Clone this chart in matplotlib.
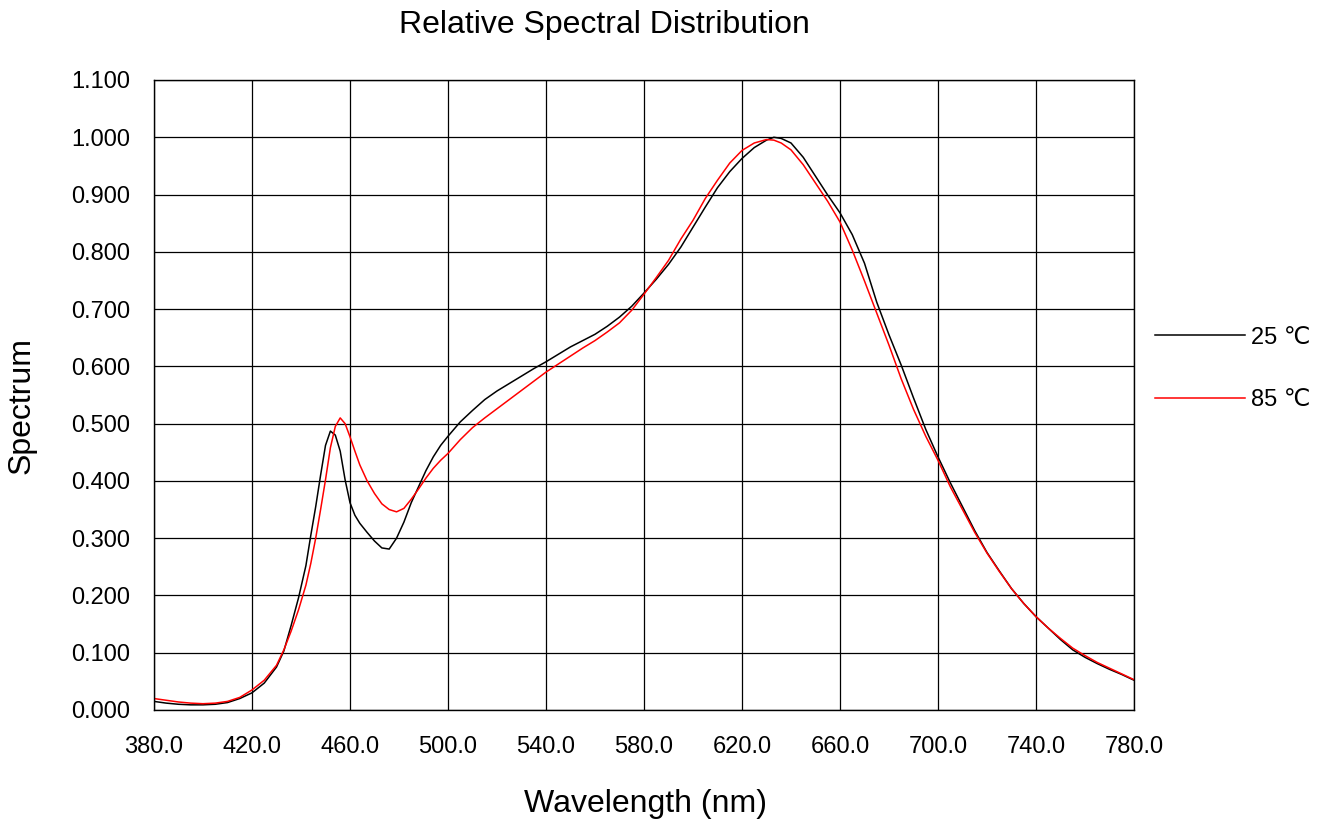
import matplotlib
matplotlib.use("Agg")
import matplotlib.pyplot as plt
from matplotlib.ticker import FixedLocator, FormatStrFormatter

plt.rcParams['font.family'] = ['Liberation Sans', 'DejaVu Sans']

wavelength = [380, 385, 390, 395, 400, 405, 410, 415, 420, 425, 430, 433, 436, 439, 442,
              444, 446, 448, 450, 452, 454, 456, 458, 460, 462, 464, 467, 470, 473, 476,
              479, 482, 485, 488, 491, 494, 497, 500, 505, 510, 515, 520, 525, 530, 535,
              540, 545, 550, 555, 560, 565, 570, 575, 580, 585, 590, 595, 600, 605, 610,
              615, 620, 625, 630, 633, 636, 640, 645, 650, 655, 660, 665, 670, 675, 680,
              685, 690, 695, 700, 705, 710, 715, 720, 725, 730, 735, 740, 745, 750, 755,
              760, 765, 770, 775, 780]

spec_25 = [0.015, 0.012, 0.010, 0.009, 0.009, 0.010, 0.013, 0.020, 0.030, 0.047, 0.075, 0.103, 0.148, 0.196, 0.252,
           0.305, 0.355, 0.410, 0.462, 0.487, 0.480, 0.452, 0.402, 0.362, 0.340, 0.326, 0.310, 0.295, 0.283, 0.281,
           0.300, 0.328, 0.362, 0.390, 0.418, 0.442, 0.462, 0.478, 0.503, 0.523, 0.542, 0.557, 0.570, 0.583, 0.596,
           0.608, 0.621, 0.634, 0.645, 0.656, 0.670, 0.686, 0.705, 0.728, 0.752, 0.778, 0.808, 0.843, 0.878, 0.912,
           0.940, 0.963, 0.982, 0.995, 1.000, 0.998, 0.990, 0.965, 0.932, 0.899, 0.868, 0.830, 0.780, 0.712, 0.655,
           0.602, 0.545, 0.490, 0.442, 0.397, 0.355, 0.313, 0.275, 0.243, 0.212, 0.186, 0.163, 0.143, 0.123, 0.105,
           0.092, 0.081, 0.071, 0.062, 0.052]

spec_85 = [0.020, 0.017, 0.014, 0.012, 0.011, 0.012, 0.015, 0.022, 0.035, 0.052, 0.078, 0.105, 0.138, 0.175, 0.218,
           0.256, 0.300, 0.350, 0.402, 0.458, 0.495, 0.510, 0.500, 0.477, 0.452, 0.428, 0.400, 0.378, 0.360, 0.350,
           0.346, 0.352, 0.368, 0.386, 0.405, 0.422, 0.436, 0.448, 0.472, 0.493, 0.510, 0.526, 0.542, 0.558, 0.574,
           0.590, 0.604, 0.618, 0.632, 0.645, 0.660, 0.676, 0.698, 0.726, 0.755, 0.785, 0.822, 0.855, 0.893, 0.925,
           0.955, 0.977, 0.990, 0.996, 0.995, 0.990, 0.978, 0.952, 0.920, 0.888, 0.852, 0.803, 0.749, 0.693, 0.637,
           0.578, 0.525, 0.478, 0.436, 0.390, 0.350, 0.310, 0.274, 0.242, 0.212, 0.186, 0.163, 0.143, 0.125, 0.108,
           0.095, 0.083, 0.073, 0.063, 0.053]

x_ticks = [380, 420, 460, 500, 540, 580, 620, 660, 700, 740, 780]
y_ticks = [0.0, 0.1, 0.2, 0.3, 0.4, 0.5, 0.6, 0.7, 0.8, 0.9, 1.0, 1.1]

fig = plt.figure(figsize=(13.2, 8.25), dpi=100)
ax = fig.add_axes([154/1320, 1 - 710/825, 980/1320, 630/825])

ax.plot(wavelength, spec_25, color='#000000', lw=1.1, label='25 ℃')
ax.plot(wavelength, spec_85, color='#ff0000', lw=1.1, label='85 ℃')

ax.set_xlim(380, 780)
ax.set_ylim(0, 1.1)
ax.xaxis.set_major_locator(FixedLocator(x_ticks))
ax.yaxis.set_major_locator(FixedLocator(y_ticks))
ax.xaxis.set_major_formatter(FormatStrFormatter('%.1f'))
ax.yaxis.set_major_formatter(FormatStrFormatter('%.3f'))
ax.tick_params(axis='both', length=0, labelsize=17, colors='#000000')
ax.tick_params(axis='y', pad=17)
ax.tick_params(axis='x', pad=19)
ax.grid(True, color='#000000', lw=0.9)
ax.set_axisbelow(True)
for s in ax.spines.values():
    s.set_color('#000000')
    s.set_linewidth(1.0)

fig.text(604/1320, 1 - 33.5/825, 'Relative Spectral Distribution', fontsize=23,
         ha='center', va='baseline')
fig.text(645.7/1320, 1 - 811.7/825, 'Wavelength (nm)', fontsize=23, ha='center', va='baseline')
fig.text(22/1320, 1 - 405.5/825, 'Spectrum', fontsize=23, rotation=90, ha='center', va='center')

leg = ax.legend(loc='center left', bbox_to_anchor=((1155 - 154) / 980, (710 - 369) / 630),
                frameon=False, borderpad=0, borderaxespad=0, handlelength=3.8,
                handletextpad=0.28, labelspacing=1.72, prop={'size': 17,
                'family': ['Liberation Sans', 'DejaVu Sans']})

fig.savefig('out.png', dpi=100)
